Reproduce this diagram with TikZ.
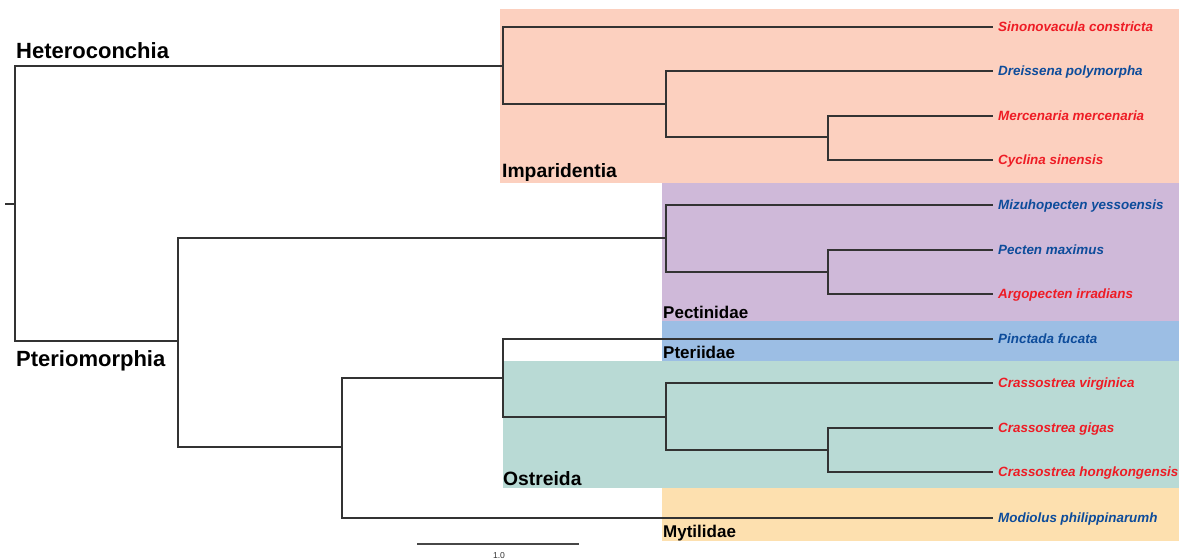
\documentclass[tikz,border=0pt]{standalone}
\usepackage{fontspec}
\setmainfont{Liberation Sans}
\definecolor{impC}{HTML}{FCD0BF}
\definecolor{pecC}{HTML}{CFB9D9}
\definecolor{ptrC}{HTML}{9CBEE4}
\definecolor{ostC}{HTML}{B9DAD5}
\definecolor{mytC}{HTML}{FDE0AF}
\definecolor{redL}{HTML}{EE1C25}
\definecolor{bluL}{HTML}{0D4C9B}
\definecolor{branchC}{HTML}{333333}
\tikzset{
  branch/.style={draw=branchC, line width=1.1pt, line cap=rect},
  leaf/.style={anchor=base west, inner sep=0pt, font=\fontsize{13.4}{16}\selectfont\bfseries\itshape, yshift=-4.8pt, xshift=6pt},
  redleaf/.style={leaf, text=redL},
  blueleaf/.style={leaf, text=bluL},
  bigclade/.style={anchor=base west, inner sep=0pt, font=\fontsize{22}{26}\selectfont\bfseries},
  midclade/.style={anchor=base west, inner sep=0pt, font=\fontsize{19.3}{23}\selectfont\bfseries},
  smallclade/.style={anchor=base west, inner sep=0pt, font=\fontsize{17}{20}\selectfont\bfseries},
}
\begin{document}
\begin{tikzpicture}[x=1pt,y=-1pt]
\useasboundingbox (0,0) rectangle (1180,559);
% clade boxes
\fill[impC] (500,9) rectangle (1179,183);
\fill[pecC] (662,183) rectangle (1179,320.5);
\fill[ptrC] (662,320.5) rectangle (1179,360.5);
\fill[ostC] (503,360.5) rectangle (1179,488);
\fill[mytC] (662,488) rectangle (1179,541);
% internal nodes
\coordinate (R) at (15,204);
\coordinate (Rt) at (6,204);
\coordinate (H) at (503,66);
\coordinate (D1) at (666,104);
\coordinate (MC) at (828,137);
\coordinate (P) at (178,341);
\coordinate (Pec) at (666,238);
\coordinate (PA) at (828,272);
\coordinate (L) at (342,447);
\coordinate (PO) at (503,378);
\coordinate (O) at (666,417);
\coordinate (CG) at (828,450);
% leaf tips
\coordinate (tSin) at (992,27);
\coordinate (tDre) at (992,71);
\coordinate (tMer) at (992,116);
\coordinate (tCyc) at (992,160);
\coordinate (tMiz) at (992,205);
\coordinate (tPec) at (992,250);
\coordinate (tArg) at (992,294);
\coordinate (tPin) at (992,339);
\coordinate (tVir) at (992,383);
\coordinate (tGig) at (992,428);
\coordinate (tHon) at (992,472);
\coordinate (tMyt) at (992,518);
% branches
\draw[branch] (Rt) -- (R);
\draw[branch] (R) |- (H);
\draw[branch] (R) |- (P);
\draw[branch] (H) |- (tSin);
\draw[branch] (H) |- (D1);
\draw[branch] (D1) |- (tDre);
\draw[branch] (D1) |- (MC);
\draw[branch] (MC) |- (tMer);
\draw[branch] (MC) |- (tCyc);
\draw[branch] (P) |- (Pec);
\draw[branch] (P) |- (L);
\draw[branch] (Pec) |- (tMiz);
\draw[branch] (Pec) |- (PA);
\draw[branch] (PA) |- (tPec);
\draw[branch] (PA) |- (tArg);
\draw[branch] (L) |- (PO);
\draw[branch] (L) |- (tMyt);
\draw[branch] (PO) |- (tPin);
\draw[branch] (PO) |- (O);
\draw[branch] (O) |- (tVir);
\draw[branch] (O) |- (CG);
\draw[branch] (CG) |- (tGig);
\draw[branch] (CG) |- (tHon);
% leaf labels
\node[redleaf] (lSin) at (tSin) {Sinonovacula constricta};
\node[blueleaf] (lDre) at (tDre) {Dreissena polymorpha};
\node[redleaf] (lMer) at (tMer) {Mercenaria mercenaria};
\node[redleaf] (lCyc) at (tCyc) {Cyclina sinensis};
\node[blueleaf] (lMiz) at (tMiz) {Mizuhopecten yessoensis};
\node[blueleaf] (lPec) at (tPec) {Pecten maximus};
\node[redleaf] (lArg) at (tArg) {Argopecten irradians};
\node[blueleaf] (lPin) at (tPin) {Pinctada fucata};
\node[redleaf] (lVir) at (tVir) {Crassostrea virginica};
\node[redleaf] (lGig) at (tGig) {Crassostrea gigas};
\node[redleaf] (lHon) at (tHon) {Crassostrea hongkongensis};
\node[blueleaf] (lMyt) at (tMyt) {Modiolus philippinarumh};
% clade labels
\node[bigclade] (cHet) at (16,59) {Heteroconchia};
\node[bigclade] (cPte) at (16,366) {Pteriomorphia};
\node[midclade] (cImp) at (502,177) {Imparidentia};
\node[smallclade] (cPec) at (663,318) {Pectinidae};
\node[smallclade] (cPtr) at (663,358) {Pteriidae};
\node[midclade] (cOst) at (503,485.5) {Ostreida};
\node[smallclade] (cMyt) at (663,537) {Mytilidae};
% scale bar
\coordinate (s1) at (417,544);
\coordinate (s2) at (579,544);
\draw[draw=branchC!90, line width=1.4pt] (s1) -- (s2);
\node[anchor=base, inner sep=0pt, font=\fontsize{8.6}{10}\selectfont, text=branchC] (sLab) at (499,558) {1.0};
\end{tikzpicture}
\end{document}
